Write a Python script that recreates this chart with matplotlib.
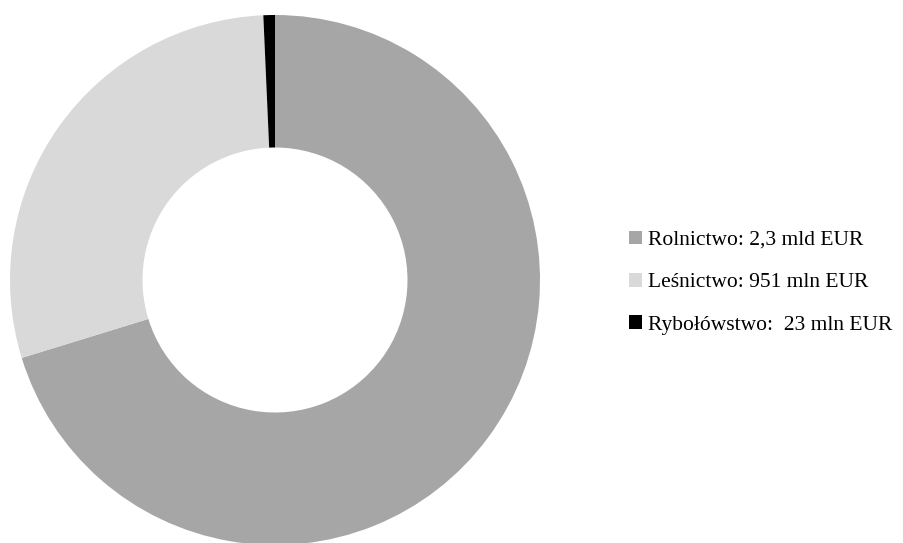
import matplotlib
matplotlib.use("Agg")
import matplotlib.pyplot as plt
from matplotlib.patches import Patch

# Wartości w mln EUR
categories = ["Rolnictwo", "Leśnictwo", "Rybołówstwo"]
values = [2300, 951, 23]
legend_labels = ["Rolnictwo: 2,3 mld EUR", "Leśnictwo: 951 mln EUR", "Rybołówstwo:  23 mln EUR"]
colors = ["#a6a6a6", "#d9d9d9", "#000000"]

W, H = 904, 543
fig = plt.figure(figsize=(W / 100, H / 100), dpi=100)
ax = fig.add_axes([0, 0, 1, 1])

R = 265.0              # outer radius in pixels
cx, cy = 275.0, 263.0  # centre in pixels (from bottom-left)

ax.pie(values, colors=colors, startangle=90, counterclock=False,
       radius=1.0, wedgeprops=dict(width=0.5, linewidth=0),
       center=(0, 0))
ax.set_xlim(-cx / R, (W - cx) / R)
ax.set_ylim(-cy / R, (H - cy) / R)
ax.set_aspect("auto")
ax.axis("off")

handles = [Patch(facecolor=c, edgecolor="none") for c in colors]
leg = fig.legend(handles, legend_labels, loc="upper left",
                 bbox_to_anchor=(620 / W, 1 - 222 / H),
                 frameon=False, handlelength=0.6, handleheight=0.6,
                 handletextpad=0.3, labelspacing=1.06, borderaxespad=0,
                 prop=dict(family="Liberation Serif", size=15.5))

fig.savefig("out.png", dpi=100)
